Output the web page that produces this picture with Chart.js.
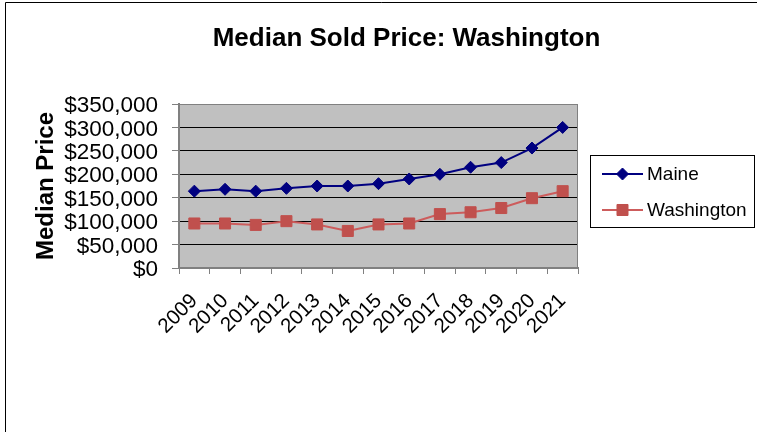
<!DOCTYPE html>
<html lang="en">
<head>
  <meta charset="UTF-8">
  <title>Median Sold Price: Washington</title>
  <script src="https://cdn.jsdelivr.net/npm/chart.js"></script>
  <style>
    body {
      margin: 0;
      padding: 0;
      background: #fff;
    }
    #chart {
      display: block;
    }
  </style>
</head>
<body>
  <canvas id="chart" width="757" height="432"></canvas>

  <script>
    // Data
    const years = ['2009', '2010', '2011', '2012', '2013', '2014', '2015', '2016', '2017', '2018', '2019', '2020', '2021'];
    const maine = [164000, 168000, 164000, 170000, 175000, 175000, 180000, 190000, 200000, 215000, 225000, 256000, 300000];
    const washington = [95000, 95000, 92000, 100000, 93000, 79000, 93000, 95000, 115000, 119000, 128000, 149000, 164000];
    const priceTicks = [0, 50000, 100000, 150000, 200000, 250000, 300000, 350000];
    const chartTitle = 'Median Sold Price: Washington';

    const fontFamily = "'Liberation Sans', Arial, sans-serif";

    // Outer frame, title, plot background and plot border
    const framePlugin = {
      id: 'frame',
      beforeDraw(chart) {
        const { ctx, chartArea: a } = chart;
        ctx.save();
        ctx.fillStyle = '#C0C0C0';
        ctx.fillRect(a.left, a.top, a.right - a.left, a.bottom - a.top);
        ctx.restore();
      },
      afterDraw(chart) {
        const { ctx, chartArea: a } = chart;
        ctx.save();
        ctx.strokeStyle = '#808080';
        ctx.lineWidth = 1;
        ctx.strokeRect(a.left + 0.5, a.top + 0.5, a.right - a.left - 1, a.bottom - a.top);
        // chart border (only top and left show)
        ctx.strokeStyle = '#000';
        ctx.beginPath();
        ctx.moveTo(5.5, chart.height);
        ctx.lineTo(5.5, 2.5);
        ctx.lineTo(chart.width, 2.5);
        ctx.stroke();
        // title, centred on the whole chart
        ctx.fillStyle = '#000';
        ctx.font = 'bold 26px ' + fontFamily;
        ctx.textAlign = 'center';
        ctx.textBaseline = 'alphabetic';
        ctx.fillText(chartTitle, 406.5, 46);
        ctx.restore();
      }
    };

    // Excel style legend box on the right
    const legendPlugin = {
      id: 'boxLegend',
      afterDraw(chart) {
        const ctx = chart.ctx;
        ctx.save();
        ctx.strokeStyle = '#000';
        ctx.lineWidth = 1;
        ctx.strokeRect(590.5, 155.5, 164, 72);
        ctx.font = '19px ' + fontFamily;
        ctx.textBaseline = 'middle';
        ctx.fillStyle = '#000';
        const rows = [174, 210];
        chart.data.datasets.forEach((ds, i) => {
          const y = rows[i];
          ctx.strokeStyle = ds.borderColor;
          ctx.lineWidth = 2;
          ctx.beginPath();
          ctx.moveTo(602, y);
          ctx.lineTo(643, y);
          ctx.stroke();
          ctx.fillStyle = ds.pointBackgroundColor;
          ctx.strokeStyle = ds.pointBorderColor;
          ctx.lineWidth = 1;
          Chart.helpers.drawPoint(ctx, { pointStyle: ds.pointStyle, radius: ds.pointRadius, rotation: 0, borderWidth: 1 }, 622.5, y);
          ctx.fillStyle = '#000';
          ctx.fillText(ds.label, 647, y + 1);
        });
        ctx.restore();
      }
    };

    new Chart(document.getElementById('chart'), {
      type: 'line',
      data: {
        labels: years,
        datasets: [
          {
            label: 'Maine',
            data: maine,
            borderColor: '#000080',
            borderWidth: 2,
            pointStyle: 'rectRot',
            pointRadius: 6,
            pointBackgroundColor: '#000080',
            pointBorderColor: '#000080',
            pointBorderWidth: 1,
            tension: 0
          },
          {
            label: 'Washington',
            data: washington,
            borderColor: '#CD5C5C',
            borderWidth: 2,
            pointStyle: 'rect',
            pointRadius: 7.8,
            pointBackgroundColor: '#C0504D',
            pointBorderColor: '#C0504D',
            pointBorderWidth: 1,
            tension: 0
          }
        ]
      },
      options: {
        responsive: false,
        animation: false,
        layout: { padding: { left: 0, right: 179, top: 104, bottom: 0 } },
        plugins: {
          legend: { display: false },
          tooltip: { enabled: false },
          title: { display: false }
        },
        scales: {
          x: {
            offset: true,
            grid: { offset: true, drawOnChartArea: false, drawTicks: true, tickLength: 6, color: '#808080' },
            border: { display: true, color: '#808080', width: 2 },
            ticks: {
              color: '#000',
              font: { family: fontFamily, size: 20.5 },
              minRotation: 45,
              maxRotation: 45,
              autoSkip: false,
              padding: 15
            },
            afterFit(scale) { scale.height = 164; }
          },
          y: {
            min: 0,
            max: 350000,
            afterBuildTicks(scale) { scale.ticks = priceTicks.map(v => ({ value: v })); },
            grid: { color: '#000', lineWidth: 1, tickLength: 7, tickColor: '#808080' },
            border: { display: true, color: '#808080', width: 2 },
            ticks: {
              color: '#000',
              font: { family: fontFamily, size: 22.5 },
              padding: 14,
              labelOffset: 2,
              autoSkip: false,
              callback: v => '$' + v.toLocaleString('en-US')
            },
            title: {
              display: true,
              text: 'Median Price',
              color: '#000',
              font: { family: fontFamily, size: 24, weight: 'bold' },
              padding: { top: 32, bottom: 0 }
            },
            afterFit(scale) { scale.width = 179; }
          }
        }
      },
      plugins: [framePlugin, legendPlugin]
    });
  </script>
</body>
</html>
